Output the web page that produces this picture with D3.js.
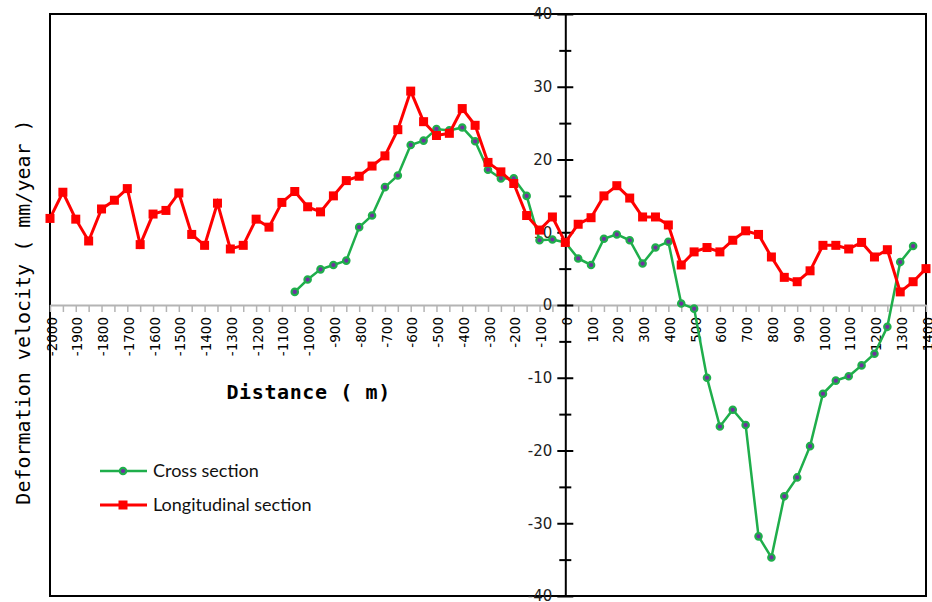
<!DOCTYPE html>
<html>
<head>
<meta charset="utf-8">
<script src="https://cdn.jsdelivr.net/npm/d3@7"></script>
<style>
  body { margin: 0; background: #fff; }
</style>
</head>
<body>
<div id="container"></div>
<script>
/* CONSTANTS AND GLOBALS */
const width = 932,
  height = 602,
  margin = { top: 14, bottom: 6, left: 50, right: 6 }

/* DATA */
const longDistance = [-2000, -1950, -1900, -1850, -1800, -1750, -1700, -1650, -1600, -1550,
  -1500, -1450, -1400, -1350, -1300, -1250, -1200, -1150, -1100, -1050,
  -1000, -950, -900, -850, -800, -750, -700, -650, -600, -550,
  -500, -450, -400, -350, -300, -250, -200, -150, -100, -50,
  0, 50, 100, 150, 200, 250, 300, 350, 400, 450,
  500, 550, 600, 650, 700, 750, 800, 850, 900, 950,
  1000, 1050, 1100, 1150, 1200, 1250, 1300, 1350, 1400]
const longVelocity = [11.9, 15.5, 11.8, 8.8, 13.2, 14.4, 16.0, 8.3, 12.5, 13.0,
  15.4, 9.7, 8.2, 14.0, 7.7, 8.2, 11.8, 10.7, 14.1, 15.6,
  13.5, 12.8, 15.0, 17.1, 17.7, 19.1, 20.5, 24.1, 29.4, 25.2,
  23.3, 23.6, 27.0, 24.7, 19.6, 18.3, 16.7, 12.3, 10.3, 12.1,
  8.6, 11.1, 12.0, 15.0, 16.4, 14.7, 12.1, 12.1, 11.0, 5.5,
  7.3, 7.9, 7.3, 8.9, 10.2, 9.7, 6.6, 3.8, 3.2, 4.7,
  8.2, 8.2, 7.7, 8.6, 6.6, 7.6, 1.8, 3.2, 5.0]

const crossDistance = [-1050, -1000, -950, -900, -850, -800, -750, -700, -650, -600,
  -550, -500, -450, -400, -350, -300, -250, -200, -150, -100,
  -50, 0, 50, 100, 150, 200, 250, 300, 350, 400,
  450, 500, 550, 600, 650, 700, 750, 800, 850, 900,
  950, 1000, 1050, 1100, 1150, 1200, 1250, 1300, 1350]
const crossVelocity = [1.8, 3.5, 4.9, 5.5, 6.1, 10.7, 12.3, 16.2, 17.8, 22.0,
  22.6, 24.2, 24.0, 24.4, 22.5, 18.6, 17.4, 17.4, 15.0, 8.9,
  9.0, 8.6, 6.4, 5.5, 9.1, 9.7, 8.9, 5.7, 7.9, 8.7,
  0.2, -0.5, -10.0, -16.7, -14.4, -16.5, -31.8, -34.7, -26.3, -23.7,
  -19.4, -12.2, -10.4, -9.8, -8.3, -6.7, -3.0, 5.9, 8.1]

const xMinorTicks = [-2000, -1950, -1900, -1850, -1800, -1750, -1700, -1650, -1600, -1550,
  -1500, -1450, -1400, -1350, -1300, -1250, -1200, -1150, -1100, -1050,
  -1000, -950, -900, -850, -800, -750, -700, -650, -600, -550,
  -500, -450, -400, -350, -300, -250, -200, -150, -100, -50,
  0, 50, 100, 150, 200, 250, 300, 350, 400, 450,
  500, 550, 600, 650, 700, 750, 800, 850, 900, 950,
  1000, 1050, 1100, 1150, 1200, 1250, 1300, 1350, 1400]
const xLabelTicks = [-2000, -1900, -1800, -1700, -1600, -1500, -1400, -1300, -1200, -1100,
  -1000, -900, -800, -700, -600, -500, -400, -300, -200, -100,
  0, 100, 200, 300, 400, 500, 600, 700, 800, 900, 1000, 1100, 1200, 1300, 1400]
const yMajorTicks = [-40, -30, -20, -10, 0, 10, 20, 30, 40]
const yMinorTicks = [-35, -25, -15, -5, 5, 15, 25, 35]

const crossData = crossDistance.map((d, i) => ({ x: d, y: crossVelocity[i] }))
const longData = longDistance.map((d, i) => ({ x: d, y: longVelocity[i] }))

const green = "#1fae4b",
  purple = "#7030a0",
  red = "#ff0000"

// plain hyphen for negatives, like the original
const plainNum = d => String(d)

const svg = d3.select("#container")
  .append("svg")
  .attr("width", width)
  .attr("height", height)

//scales
const xScale = d3.scaleLinear()
  .domain([-2000, 1400])
  .range([margin.left, width - margin.right])

const yScale = d3.scaleLinear()
  .domain([-40, 40])
  .range([height - margin.bottom, margin.top])

//frame
svg.append("rect")
  .attr("x", margin.left)
  .attr("y", margin.top)
  .attr("width", width - margin.left - margin.right)
  .attr("height", height - margin.top - margin.bottom)
  .attr("fill", "none")
  .attr("stroke", "black")
  .attr("stroke-width", 2)

//x-axis (gray, sits on y = 0)
const xAxis = d3.axisBottom(xScale)
  .tickValues(xMinorTicks)
  .tickSize(7)
  .tickSizeOuter(0)
  .tickFormat("")

const xAxisG = svg.append("g")
  .attr("class", "x-axis")
  .attr("transform", `translate(0, ${yScale(0)})`)
  .call(xAxis)

xAxisG.select(".domain")
  .attr("stroke", "#b4b4b4")
  .attr("stroke-width", 2)
xAxisG.selectAll(".tick line")
  .attr("stroke", "#b4b4b4")
  .attr("stroke-width", 1.5)

const xLabels = d3.axisBottom(xScale)
  .tickValues(xLabelTicks)
  .tickSize(0)
  .tickFormat(plainNum)

const xLabelG = svg.append("g")
  .attr("class", "x-labels")
  .attr("transform", `translate(0, ${yScale(0)})`)
  .call(xLabels)

xLabelG.select(".domain").remove()
xLabelG.selectAll("text")
  .attr("transform", "rotate(-90)")
  .attr("x", -12)
  .attr("y", 0)
  .attr("dy", "0.45em")
  .attr("text-anchor", "end")
  .attr("fill", "black")
  .attr("font-family", "DejaVu Sans")
  .attr("font-size", "13.5px")

//y-axis (through x = 0)
const yAxis = d3.axisLeft(yScale)
  .tickValues(yMajorTicks)
  .tickSize(8)
  .tickSizeOuter(0)
  .tickPadding(5)
  .tickFormat(plainNum)

const yAxisG = svg.append("g")
  .attr("class", "y-axis")
  .attr("transform", `translate(${xScale(0)}, 0)`)
  .call(yAxis)

yAxisG.select(".domain")
  .attr("stroke", "black")
  .attr("stroke-width", 2)
yAxisG.selectAll(".tick line")
  .attr("x1", 8)
  .attr("stroke-width", 2)
yAxisG.selectAll(".tick text")
  .attr("fill", "#222")
  .attr("font-family", "DejaVu Sans")
  .attr("font-size", "15px")

const yMinor = d3.axisLeft(yScale)
  .tickValues(yMinorTicks)
  .tickSize(6)
  .tickSizeOuter(0)
  .tickFormat("")

const yMinorG = svg.append("g")
  .attr("class", "y-minor")
  .attr("transform", `translate(${xScale(0)}, 0)`)
  .call(yMinor)

yMinorG.select(".domain").remove()
yMinorG.selectAll(".tick line")
  .attr("x1", 6)
  .attr("stroke-width", 2)

//axis titles
svg.append("text")
  .attr("class", "xAxisLabel")
  .attr("transform", `translate(${(xScale(-2000) + xScale(0)) / 2 + 1}, 399)`)
  .text("Distance ( m)")
  .attr("fill", "black")
  .attr("text-anchor", "middle")
  .attr("font-family", "DejaVu Sans Mono")
  .attr("font-weight", "bold")
  .attr("font-size", "20px")
  .attr("letter-spacing", "0.6px")

svg.append("text")
  .attr("class", "yAxisLabel")
  .attr("transform", "translate(30, 312) rotate(-90)")
  .text("Deformation velocity ( mm/year )")
  .attr("fill", "black")
  .attr("text-anchor", "middle")
  .attr("font-family", "DejaVu Sans Mono")
  .attr("font-size", "20px")

//line generator
const lineGen = d3.line()
  .x(d => xScale(d.x))
  .y(d => yScale(d.y))

//cross section
svg.append("path")
  .datum(crossData)
  .attr("class", "cross")
  .attr("fill", "none")
  .attr("stroke", green)
  .attr("stroke-width", 2.5)
  .attr("d", lineGen)

svg.selectAll(".cross-dot")
  .data(crossData)
  .join("circle")
  .attr("class", "cross-dot")
  .attr("cx", d => xScale(d.x))
  .attr("cy", d => yScale(d.y))
  .attr("r", 3.2)
  .attr("fill", purple)
  .attr("stroke", green)
  .attr("stroke-width", 2.2)

//longitudinal section
svg.append("path")
  .datum(longData)
  .attr("class", "long")
  .attr("fill", "none")
  .attr("stroke", red)
  .attr("stroke-width", 3)
  .attr("d", lineGen)

svg.selectAll(".long-dot")
  .data(longData)
  .join("rect")
  .attr("class", "long-dot")
  .attr("x", d => xScale(d.x) - 4.5)
  .attr("y", d => yScale(d.y) - 4.5)
  .attr("width", 9)
  .attr("height", 9)
  .attr("fill", red)

//legend
const legend = svg.append("g")
  .attr("class", "legend")
  .attr("transform", "translate(100, 471)")

legend.append("line")
  .attr("x1", 0).attr("x2", 47)
  .attr("y1", 0).attr("y2", 0)
  .attr("stroke", green)
  .attr("stroke-width", 2.5)
legend.append("circle")
  .attr("cx", 23).attr("cy", 0)
  .attr("r", 3.2)
  .attr("fill", purple)
  .attr("stroke", green)
  .attr("stroke-width", 2.2)
legend.append("text")
  .attr("x", 53).attr("y", 0)
  .attr("dy", "0.35em")
  .text("Cross section")
  .attr("fill", "#111")
  .attr("font-family", "Lato")
  .attr("font-size", "18px")

legend.append("line")
  .attr("x1", 0).attr("x2", 47)
  .attr("y1", 34).attr("y2", 34)
  .attr("stroke", red)
  .attr("stroke-width", 3)
legend.append("rect")
  .attr("x", 18.5).attr("y", 29.5)
  .attr("width", 9).attr("height", 9)
  .attr("fill", red)
legend.append("text")
  .attr("x", 53).attr("y", 34)
  .attr("dy", "0.35em")
  .text("Longitudinal section")
  .attr("fill", "#111")
  .attr("font-family", "Lato")
  .attr("font-size", "18px")
</script>
</body>
</html>
